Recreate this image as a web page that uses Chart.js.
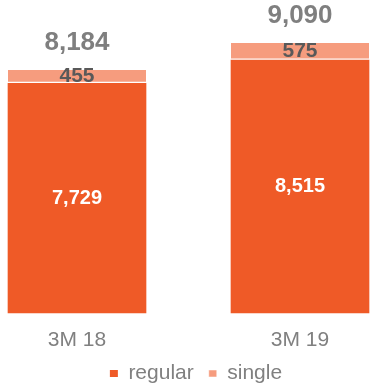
<!DOCTYPE html>
<html>
<head>
<meta charset="utf-8">
<script src="https://cdn.jsdelivr.net/npm/chart.js@4.4.1/dist/chart.umd.min.js"></script>
<style>
  html, body { margin: 0; padding: 0; background: #ffffff; }
  #wrap { position: relative; width: 375px; height: 390px; }
</style>
</head>
<body>
<div id="wrap"><canvas id="chart"></canvas></div>
<script>
// Quarterly counts, split by type
const categories = ['3M 18', '3M 19'];
const regularValues = [7729, 8515];
const singleValues = [455, 575];

const ORANGE = '#ef5a27';
const LIGHT = '#f69c7e';
const FONT = '"Liberation Sans", Arial, sans-serif';

const fmt = v => v.toLocaleString('en-US');

// Value labels: inside the regular segment, on the single segment, and the stack total above
const valueLabels = {
  id: 'valueLabels',
  afterDatasetsDraw(chart) {
    const ctx = chart.ctx;
    const regular = chart.getDatasetMeta(0).data;
    const single = chart.getDatasetMeta(1).data;
    ctx.save();
    ctx.textAlign = 'center';
    ctx.textBaseline = 'middle';
    regular.forEach((bar, i) => {
      ctx.fillStyle = '#ffffff';
      ctx.font = 'bold 20px ' + FONT;
      ctx.fillText(fmt(regularValues[i]), bar.x, (bar.y + bar.base) / 2);

      const top = single[i];
      ctx.fillStyle = '#595959';
      ctx.font = 'bold 21px ' + FONT;
      ctx.fillText(fmt(singleValues[i]), top.x, (top.y + top.base) / 2);

      ctx.fillStyle = '#7f7f7f';
      ctx.font = 'bold 26px ' + FONT;
      ctx.fillText(fmt(regularValues[i] + singleValues[i]), top.x, top.y - 27);
    });
    ctx.restore();
  }
};

new Chart(document.getElementById('chart'), {
  type: 'bar',
  data: {
    labels: categories,
    datasets: [
      {
        label: 'regular',
        data: regularValues,
        backgroundColor: ORANGE,
        borderWidth: 0,
        barThickness: 138,
        clip: false
      },
      {
        label: 'single',
        data: singleValues,
        backgroundColor: LIGHT,
        borderColor: '#ffffff',
        borderWidth: { top: 0, left: 0, right: 0, bottom: 2 },
        borderSkipped: false,
        barThickness: 138,
        clip: false
      }
    ]
  },
  options: {
    responsive: true,
    maintainAspectRatio: false,
    animation: false,
    // negative bottom lets the legend sit low while keeping its item spacing
    layout: { padding: { top: 16, left: 77, right: 60, bottom: -4 } },
    plugins: {
      tooltip: { enabled: false },
      legend: {
        position: 'bottom',
        labels: {
          boxWidth: 8,
          boxHeight: 7,
          padding: 15,
          color: '#808080',
          font: { family: FONT, size: 21 }
        }
      }
    },
    scales: {
      x: {
        stacked: true,
        offset: false,
        grid: { display: false, drawTicks: false },
        border: { display: false },
        ticks: {
          color: '#808080',
          padding: 15,
          font: { family: FONT, size: 21 }
        },
        afterFit: scale => { scale.height = 35; }
      },
      y: {
        stacked: true,
        position: 'right',
        min: 0,
        max: 10000,
        grid: { display: false },
        border: { display: false },
        ticks: { display: false },
        afterFit: scale => { scale.width = 15; }
      }
    }
  },
  plugins: [valueLabels]
});
</script>
</body>
</html>
